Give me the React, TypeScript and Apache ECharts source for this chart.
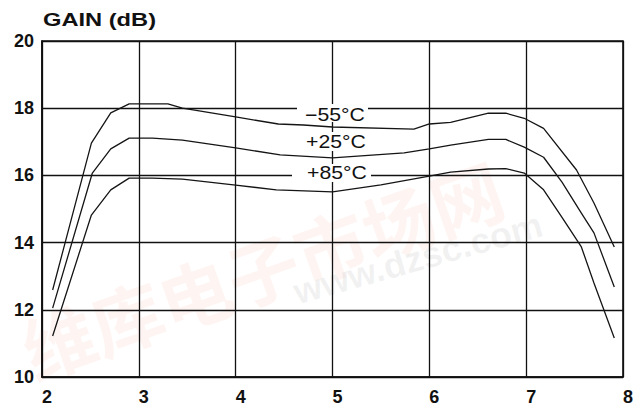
import React, { useEffect, useRef } from "react";
import * as echarts from "echarts";

const xTicks = [2, 3, 4, 5, 6, 7, 8];
const yTicks = [10, 12, 14, 16, 18, 20];

const xM55 = [2.11, 2.51, 2.71, 2.9, 3.3, 3.45, 4.0, 4.44, 4.7, 5.0, 5.84, 6.0, 6.22, 6.61, 6.79, 6.98, 7.18, 7.52, 7.7, 7.91];
const yM55 = [12.59, 16.96, 17.86, 18.13, 18.13, 18.0, 17.74, 17.53, 17.5, 17.44, 17.38, 17.53, 17.58, 17.85, 17.85, 17.7, 17.4, 16.16, 15.18, 13.87];

const xP25 = [2.11, 2.52, 2.71, 2.9, 3.14, 3.45, 4.0, 4.46, 5.0, 5.74, 6.0, 6.22, 6.61, 6.79, 6.98, 7.18, 7.37, 7.57, 7.7, 7.91];
const yP25 = [12.05, 16.07, 16.79, 17.11, 17.11, 17.05, 16.82, 16.61, 16.52, 16.67, 16.79, 16.9, 17.07, 17.07, 16.84, 16.54, 15.8, 14.88, 14.29, 12.68];

const xP85 = [2.11, 2.51, 2.71, 2.9, 3.14, 3.45, 4.0, 4.42, 5.0, 5.5, 6.0, 6.22, 6.61, 6.79, 6.98, 7.18, 7.37, 7.57, 7.7, 7.91];
const yP85 = [11.22, 14.82, 15.57, 15.92, 15.92, 15.89, 15.71, 15.57, 15.51, 15.72, 15.98, 16.1, 16.19, 16.2, 16.07, 15.57, 14.75, 13.87, 12.8, 11.16];

const seriesNames = ["−55°C", "+25°C", "+85°C"];
const title = "GAIN (dB)";

const pairs = (xs: number[], ys: number[]) => xs.map((x, i) => [x, ys[i]]);

export default function App() {
  const ref = useRef<HTMLDivElement>(null);
  useEffect(() => {
    if (!ref.current) return;
    const chart = echarts.init(ref.current, undefined, { renderer: "svg" });
    const font = '"Liberation Sans", Arial, Helvetica, sans-serif';
    const lineStyle = { color: "#151515", width: 1.3 };
    const mkSeries = (name: string, xs: number[], ys: number[]) => ({
      type: "line",
      name,
      data: pairs(xs, ys),
      showSymbol: false,
      symbol: "none",
      lineStyle,
      z: 3,
    });
    const labelRects = [
      { x: 297, y: 104, w: 71, h: 18 },
      { x: 300, y: 132, w: 70, h: 19 },
      { x: 292, y: 164, w: 79, h: 18 },
    ];
    const labelPos = [
      { x: 335, y: 115 },
      { x: 336, y: 142 },
      { x: 337, y: 173 },
    ];
    const graphics: any[] = [
      {
        type: "text",
        x: 262,
        y: 268,
        rotation: (19.4 * Math.PI) / 180,
        z: 0,
        silent: true,
        style: {
          text: "维库电子市场网",
          font: 'bold 72px "Noto Sans CJK SC"',
          fill: "rgba(235,110,90,0.07)",
          textAlign: "center",
          textVerticalAlign: "middle",
        },
      },
      {
        type: "text",
        x: 418,
        y: 258,
        rotation: (15.6 * Math.PI) / 180,
        z: 0,
        silent: true,
        style: {
          text: "www.dzsc.com",
          font: "bold 36px " + font,
          fill: "rgba(150,150,150,0.12)",
          textAlign: "center",
          textVerticalAlign: "middle",
        },
      },
      {
        type: "text",
        x: 43,
        y: 10,
        scaleX: 1.28,
        z: 100,
        style: {
          text: title,
          font: "bold 18.5px " + font,
          fill: "#111",
          textAlign: "left",
          textVerticalAlign: "top",
        },
      },
    ];
    labelRects.forEach((r, i) => {
      graphics.push({
        type: "rect",
        z: 100,
        shape: { x: r.x, y: r.y, width: r.w, height: r.h },
        style: { fill: "#fff" },
      });
      graphics.push({
        type: "text",
        x: labelPos[i].x,
        y: labelPos[i].y,
        scaleX: 1.18,
        z: 101,
        style: {
          text: seriesNames[i],
          font: "18px " + font,
          fill: "#111",
          textAlign: "center",
          textVerticalAlign: "middle",
        },
      });
    });
    chart.setOption({
      animation: false,
      backgroundColor: "#fff",
      grid: {
        left: 42,
        right: 21,
        top: 41,
        bottom: 29,
        show: true,
        borderColor: "#111",
        borderWidth: 1.6,
        backgroundColor: "transparent",
      },
      xAxis: {
        type: "value",
        min: xTicks[0],
        max: xTicks[xTicks.length - 1],
        interval: 1,
        axisLine: { show: true, lineStyle: { color: "#111", width: 1.6 } },
        axisTick: { show: false },
        splitLine: { show: true, lineStyle: { color: "#111", width: 1.3 } },
        axisLabel: {
          color: "#111",
          fontSize: 18,
          fontWeight: "bold",
          fontFamily: font,
          margin: 11,
          padding: [0, 0, 0, 10],
        },
      },
      yAxis: {
        type: "value",
        min: yTicks[0],
        max: yTicks[yTicks.length - 1],
        interval: 2,
        axisLine: { show: true, lineStyle: { color: "#111", width: 1.6 } },
        axisTick: { show: false },
        splitLine: { show: true, lineStyle: { color: "#111", width: 1.3 } },
        axisLabel: {
          color: "#111",
          fontSize: 18,
          fontWeight: "bold",
          fontFamily: font,
          margin: 8,
          padding: [6, 0, 0, 0],
        },
      },
      series: [
        mkSeries(seriesNames[0], xM55, yM55),
        mkSeries(seriesNames[1], xP25, yP25),
        mkSeries(seriesNames[2], xP85, yP85),
      ],
      graphic: graphics,
    });
    return () => chart.dispose();
  }, []);
  return (
    <div
      ref={ref}
      style={{ position: "fixed", left: 0, top: 0, width: 644, height: 406, background: "#fff" }}
    />
  );
}
